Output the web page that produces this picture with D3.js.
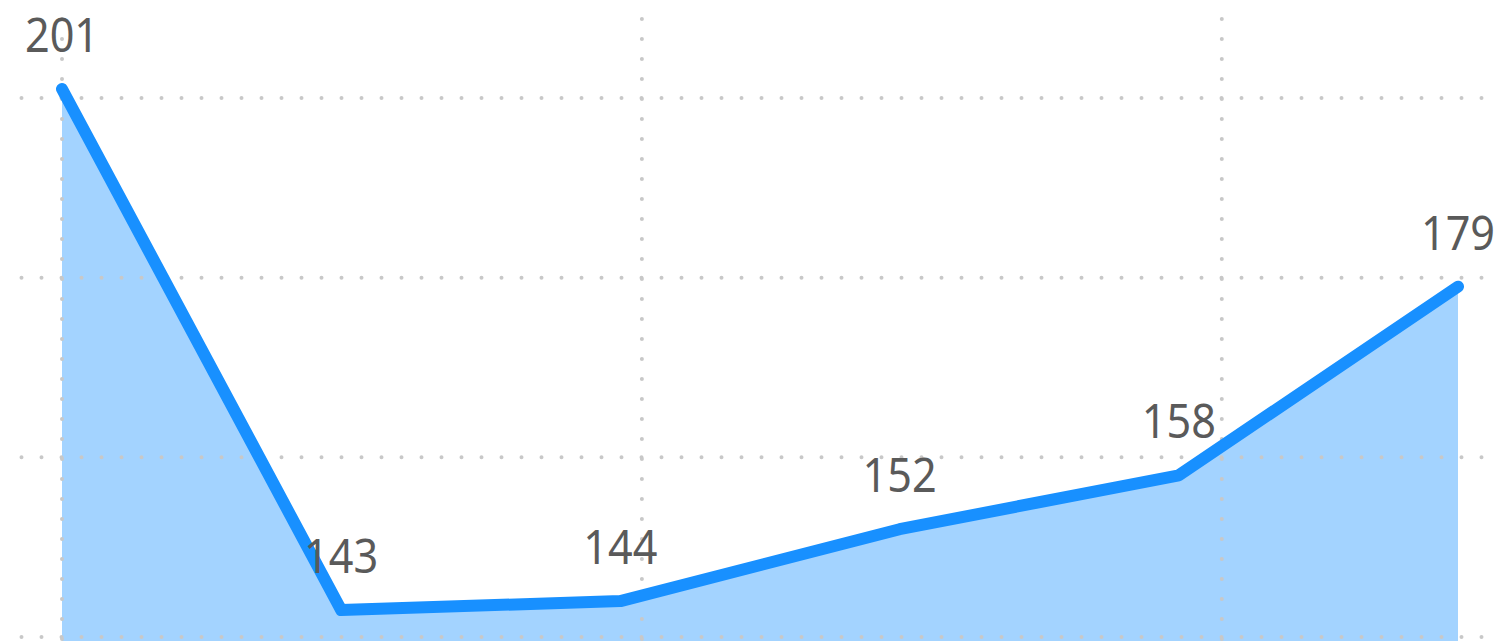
<!DOCTYPE html>
<html>
<head>
<meta charset="utf-8">
<script src="https://cdn.jsdelivr.net/npm/d3@7"></script>
<style>
  html, body { margin: 0; padding: 0; background: #fff; }
  svg { display: block; }
</style>
</head>
<body>
<div id="chart"></div>
<script>
// data
var labels = ["1", "2", "3", "4", "5", "6"];
var values = [201, 143, 144, 152, 158, 179];
var yTicks = [140, 160, 180, 200];
var xGridTicks = [0, 2.077, 4.154];

var width = 1497, height = 641;

var svg = d3.select("#chart").append("svg")
    .attr("width", width)
    .attr("height", height);

var x = d3.scaleLinear().domain([0, values.length - 1]).range([62, 1458]);
var y = d3.scaleLinear().domain([140, 200]).range([637, 98]);

var data = values.map(function(v, i){ return {i: i, v: v}; });

// area
var area = d3.area()
    .x(function(d){ return x(d.i); })
    .y0(height)
    .y1(function(d){ return y(d.v); });

svg.append("path")
    .datum(data)
    .attr("d", area)
    .style("fill", "#1890ff")
    .style("fill-opacity", 0.4);

// dotted grid
svg.append("g")
    .attr("class", "grid-y")
    .selectAll("line")
    .data(yTicks)
    .enter().append("line")
    .attr("x1", 21.5)
    .attr("x2", width)
    .attr("y1", function(d){ return y(d); })
    .attr("y2", function(d){ return y(d); })
    .style("stroke", "#c8c8c8")
    .style("stroke-width", 4)
    .style("stroke-linecap", "round")
    .style("stroke-dasharray", "0 20");

svg.append("g")
    .attr("class", "grid-x")
    .selectAll("line")
    .data(xGridTicks)
    .enter().append("line")
    .attr("x1", function(d){ return x(d); })
    .attr("x2", function(d){ return x(d); })
    .attr("y1", 19)
    .attr("y2", height)
    .style("stroke", "#c8c8c8")
    .style("stroke-width", 4)
    .style("stroke-linecap", "round")
    .style("stroke-dasharray", "0 20");

// line
var line = d3.line()
    .x(function(d){ return x(d.i); })
    .y(function(d){ return y(d.v); });

svg.append("path")
    .datum(data)
    .attr("d", line)
    .style("fill", "none")
    .style("stroke", "#1890ff")
    .style("stroke-width", 12)
    .style("stroke-linejoin", "round")
    .style("stroke-linecap", "round");

// value labels (font is a bit narrower in the original)
svg.append("g")
    .attr("class", "labels")
    .selectAll("text")
    .data(data)
    .enter().append("text")
    .attr("transform", function(d){
        return "translate(" + x(d.i) + "," + (y(d.v) - 37) + ") scale(0.92,1)";
    })
    .attr("text-anchor", "middle")
    .style("font-family", "'Noto Sans', sans-serif")
    .style("font-size", "47px")
    .style("fill", "#5a5a5a")
    .text(function(d){ return d.v; });
</script>
</body>
</html>
